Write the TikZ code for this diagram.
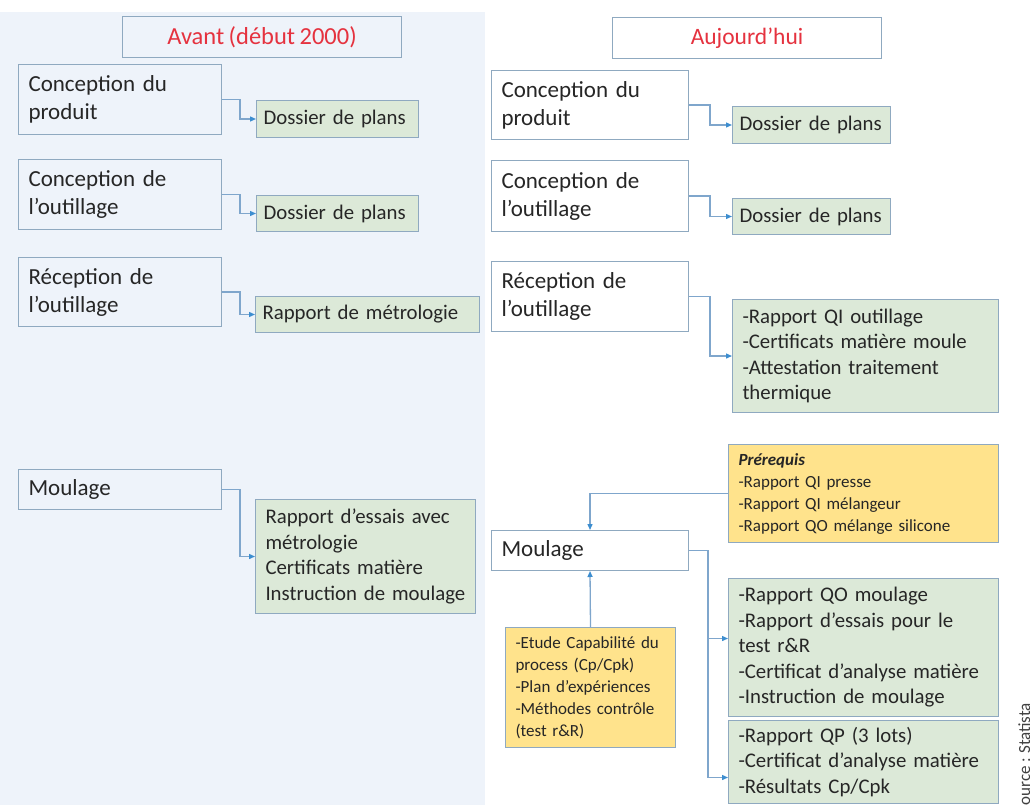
\documentclass[tikz,border=0pt]{standalone}
\usepackage{fontspec}
\setmainfont{Carlito}[WordSpace=0.8]
\usetikzlibrary{arrows.meta}

\definecolor{cadre}{HTML}{8FA9C0}
\definecolor{fondgauche}{HTML}{EEF3FA}
\definecolor{vertclair}{HTML}{DCE9D8}
\definecolor{jaune}{HTML}{FFE38C}
\definecolor{rougetitre}{HTML}{E5323F}
\definecolor{fleche}{HTML}{7FA6CC}
\definecolor{pointe}{HTML}{3D8ED0}
\definecolor{texte}{HTML}{262626}

\begin{document}
\begin{tikzpicture}[
    x=1pt,y=-1pt,
    every node/.style={text=texte},
    titre/.style={draw=cadre,line width=1pt,anchor=north west,minimum height=41pt,
      text=rougetitre,font=\fontsize{23.5}{27}\selectfont},
    etape/.style={draw=cadre,line width=1pt,anchor=north west,align=left,
      inner xsep=10pt,inner ysep=0pt,text width=183pt,font=\fontsize{23}{28}\selectfont},
    etapeblanche/.style={etape,fill=white,text width=177pt},
    livrable/.style={draw=cadre,line width=1pt,fill=vertclair,anchor=north west,align=left,
      inner xsep=10pt,inner ysep=0pt,font=\fontsize{20.8}{25.5}\selectfont},
    livrablecourt/.style={livrable,inner xsep=7pt},
    prerequis/.style={draw=cadre,line width=1pt,fill=jaune,anchor=north west,align=left,
      inner xsep=10pt,inner ysep=0pt,font=\fontsize{17}{22}\selectfont},
    lien/.style={draw=fleche,line width=1.3pt,-{Triangle[length=6pt,width=5pt,color=pointe]}}]

  \useasboundingbox (0,0) rectangle (1030,805);

  % ---- fond de la colonne "avant" ---------------------------------------
  \fill[fondgauche] (0,12) rectangle (485,805);

  % ---- colonne gauche : avant ---------------------------------------------
  \node[titre,minimum width=279pt,font=\fontsize{24.5}{28}\selectfont] (titreG) at (122,16) {Avant (début 2000)};

  \node[etape,minimum height=70pt] (ag1) at (18,64)  {Conception du\\produit};
  \node[etape,minimum height=70pt] (ag2) at (18,159) {Conception de\\l’outillage};
  \node[etape,minimum height=69pt] (ag3) at (18,257) {Réception de\\l’outillage};
  \node[etape,minimum height=40pt] (ag4) at (18,469) {Moulage};

  \node[livrablecourt,text width=148pt,minimum height=37pt] (lg1) at (256,100) {Dossier de plans};
  \node[livrablecourt,text width=148pt,minimum height=36pt] (lg2) at (256,195) {Dossier de plans};
  \node[livrablecourt,text width=210pt,minimum height=36pt] (lg3) at (255,296) {Rapport de métrologie};
  \node[livrable,text width=200pt,minimum height=114pt] (lg4) at (255,499)
    {Rapport d’essais avec\\métrologie\\Certificats matière\\Instruction de moulage};

  % ---- colonne droite : aujourd'hui ---------------------------------------
  \node[titre,fill=white,minimum width=269pt] (titreD) at (612,17) {Aujourd’hui};

  \node[etapeblanche,minimum height=69pt] (ad1) at (491,70)  {Conception du\\produit};
  \node[etapeblanche,minimum height=71pt] (ad2) at (491,160) {Conception de\\l’outillage};
  \node[etapeblanche,minimum height=70pt] (ad3) at (491,261) {Réception de\\l’outillage};
  \node[etapeblanche,minimum height=40pt] (ad4) at (491,530) {Moulage};

  \node[livrablecourt,text width=144pt,minimum height=37pt] (ld1) at (732,106) {Dossier de plans};
  \node[livrablecourt,text width=144pt,minimum height=36pt] (ld2) at (732,198) {Dossier de plans};
  \node[livrable,text width=246pt,minimum height=113pt] (ld3) at (732,299)
    {-Rapport QI outillage\\-Certificats matière moule\\-Attestation traitement\\thermique};
  \node[livrable,text width=250pt,minimum height=138pt] (ld4) at (728,578)
    {-Rapport QO moulage\\-Rapport d’essais pour le\\test r\&R\\-Certificat d’analyse matière\\-Instruction de moulage};
  \node[livrable,text width=250pt,minimum height=83pt] (ld5) at (728,720)
    {-Rapport QP (3 lots)\\-Certificat d’analyse matière\\-Résultats Cp/Cpk};

  \node[prerequis,text width=250pt,minimum height=98pt] (pre) at (728,444)
    {\textbf{\textit{Prérequis}}\\-Rapport QI presse\\-Rapport QI mélangeur\\-Rapport QO mélange silicone};
  \node[prerequis,text width=150pt,minimum height=120pt] (cap) at (505,627)
    {-Etude Capabilité du\\process (Cp/Cpk)\\-Plan d’expériences\\-Méthodes contrôle\\(test r\&R)};

  % ---- liens ----------------------------------------------------------------
  \draw[lien] (ag1.east) -- ++(18,0) |- (lg1.west);
  \draw[lien] (ag2.east) -- ++(18,0) |- (lg2.west);
  \draw[lien] (ag3.east) -- ++(18,0) |- (lg3.west);
  \draw[lien] (ag4.east) -- ++(18,0) |- (lg4.west);

  \draw[lien] (ad1.east) -- ++(21,0) |- (ld1.west);
  \draw[lien] (ad2.east) -- ++(21,0) |- (ld2.west);
  \draw[lien] (ad3.east) -- ++(21,0) |- (ld3.west);
  \draw[lien] (ad4.east) -- ++(19,0) |- ([yshift=9pt]ld4.west);
  \draw[lien] (ad4.east) -- ++(19,0) |- ([yshift=-15.5pt]ld5.west);

  % prerequis et etude de capabilite vers le moulage
  \draw[lien] (pre.west) -| (ad4.north);
  \draw[lien] (cap.north) -- (ad4.south);

  % ---- source (coupee au bord) ----------------------------------------------
  \begin{scope}
    \clip (1000,703) rectangle (1030,805);
    \node[rotate=90,anchor=base west,inner sep=0pt,text=black!75,
      font=\fontsize{17}{19}\selectfont] (source) at (1030,813) {Source : Statista};
  \end{scope}

\end{tikzpicture}
\end{document}
